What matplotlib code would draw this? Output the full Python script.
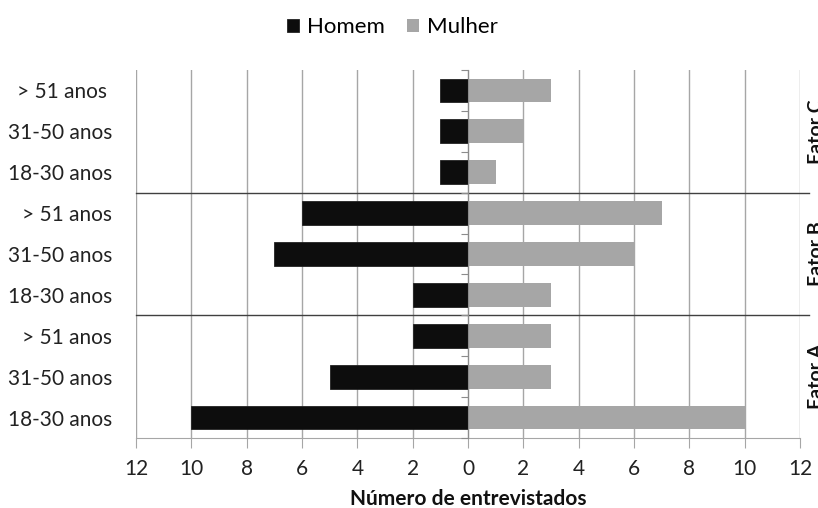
import matplotlib
matplotlib.use("Agg")
import matplotlib.pyplot as plt
import numpy as np

plt.rcParams['font.family'] = ['Lato', 'DejaVu Sans']

# rows from bottom to top
faixas = ["18-30 anos", "31-50 anos", "> 51 anos",
          "18-30 anos", "31-50 anos", "> 51 anos",
          "18-30 anos", "31-50 anos", "> 51 anos "]
fatores = ["Fator A", "Fator B", "Fator C"]
homem = [10, 5, 2, 2, 7, 6, 1, 1, 1]
mulher = [10, 3, 3, 3, 6, 7, 1, 2, 3]
xticks = [-12, -10, -8, -6, -4, -2, 0, 2, 4, 6, 8, 10, 12]

c_homem = '#0d0d0d'
c_mulher = '#a6a6a6'
c_grid = '#a6a6a6'

fig = plt.figure(figsize=(8.18, 5.08), dpi=100)
ax = fig.add_axes([0.1663, 0.1378, 0.8117, 0.7244])

y = np.arange(len(faixas))
ax.barh(y, -np.array(homem), height=0.58, color=c_homem, edgecolor='#222222', lw=0.6, label='Homem', zorder=3)
ax.barh(y, mulher, height=0.58, color=c_mulher, label='Mulher', zorder=3)

ax.set_xlim(-12, 12)
ax.set_ylim(-0.5, len(faixas) - 0.5)
ax.set_xticks(xticks)
ax.set_xticklabels([str(abs(v)) for v in xticks], fontsize=15, color='#222222')
ax.set_yticks(y)
ax.set_yticklabels(faixas, fontsize=15, color='#222222')
ax.tick_params(axis='y', length=0, pad=17)
ax.tick_params(axis='x', length=7, color=c_grid, pad=8, direction='out')
ax.grid(axis='x', color=c_grid, lw=1, zorder=0)
for s in ['top', 'right', 'left']:
    ax.spines[s].set_visible(False)
ax.spines['bottom'].set_color(c_grid)
ax.set_xlabel("Número de entrevistados", fontsize=15, fontweight='bold', labelpad=7, color='#111111')

# center axis with category ticks
ax2 = ax.twinx()
ax2.set_ylim(ax.get_ylim())
ax2.spines['left'].set_position(('data', 0))
ax2.spines['left'].set_color('#8c8c8c')
for s in ['top', 'right', 'bottom']:
    ax2.spines[s].set_visible(False)
ax2.yaxis.set_ticks_position('left')
ax2.set_yticks(np.arange(-0.5, len(faixas), 1))
ax2.set_yticklabels([])
ax2.tick_params(axis='y', length=5, color='#8c8c8c', direction='out')
ax2.set_zorder(ax.get_zorder() + 1)
ax2.patch.set_visible(False)

# group separators and group labels
for g in range(len(fatores)):
    if g > 0:
        ax.axhline(3 * g - 0.5, xmin=0, xmax=1.013, color='#404040', lw=1, clip_on=False, zorder=4)
    ax.text(1.012, 3 * g + 1, fatores[g], transform=ax.get_yaxis_transform(), rotation=90,
            ha='left', va='center', fontsize=14, fontweight='bold', color='#111111', clip_on=False)

fig.legend(loc='upper center', bbox_to_anchor=(0.48, 1.005), ncol=2, frameon=False, fontsize=16,
           handlelength=0.55, handleheight=0.55, handletextpad=0.36, columnspacing=1.0)

fig.savefig("out.png", dpi=100)
